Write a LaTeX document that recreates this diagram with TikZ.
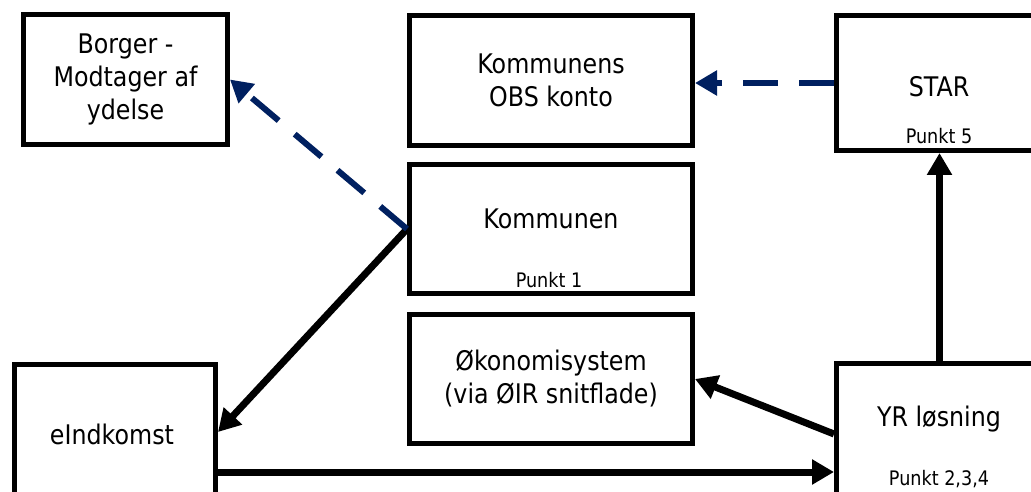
\documentclass[tikz,border=0pt]{standalone}
\usepackage{fontspec}
\setmainfont{DejaVu Sans}[FakeStretch=0.88]
\usetikzlibrary{arrows.meta,calc}
\definecolor{navy}{RGB}{0,32,96}
\begin{document}
\begin{tikzpicture}[x=1pt,y=-1pt,
  box/.style={draw, line width=5pt, rectangle, inner sep=0pt},
  big/.style={font=\fontsize{27}{33}\selectfont, align=center},
  small/.style={font=\fontsize{20}{24}\selectfont},
  arr/.style={line width=7pt, -{Triangle[length=22pt,width=24pt]}},
  darr/.style={line width=6pt, draw=navy, dash pattern=on 35pt off 21pt, -{Triangle[length=22pt,width=24pt]}}]
\useasboundingbox (0,0) rectangle (1031,492);
\clip (0,0) rectangle (1031,492);
\node[box, big, minimum width=204pt, minimum height=130pt] (borger) at (125.5,79.5) {Borger -\\Modtager af\\ydelse};
\node[box, big, minimum width=283pt, minimum height=130pt] (obs) at (551,80.5) {Kommunens\\OBS konto};
\node[box, minimum width=206pt, minimum height=135pt] (star) at (939.5,83) {};
\node[big] (starT) at (939,87) {STAR};
\node[small] (starP) at (939,136) {Punkt 5};
\node[box, minimum width=283pt, minimum height=129pt] (kommunen) at (551,229) {};
\node[big] (kommunenT) at (551,219) {Kommunen};
\node[small] (kommunenP) at (549,280) {Punkt 1};
\node[box, big, minimum width=283pt, minimum height=129pt] (oko) at (551,379) {Økonomisystem\\(via ØIR snitflade)};
\node[box, minimum width=206pt, minimum height=137pt] (yr) at (939.5,432) {};
\node[big] (yrT) at (939,419) {YR løsning};
\node[small] (yrP) at (939,479) {Punkt 2,3,4};
\node[box, minimum width=201pt, minimum height=135pt] (eind) at (115,432) {};
\node[big] (eindT) at (112,434) {eIndkomst};
\coordinate (ly) at (0,472);
\draw[arr] (kommunen.west) -- (eind.east);
\draw[darr] (kommunen.west) -- (borger.east);
\draw[darr] (star.west) -- (star.west -| obs.east);
\draw[arr] (yr.north) -- (star.south);
\draw[arr] ([yshift=-2pt]yr.west) -- (oko.east);
\draw[arr] (eind.east |- ly) -- (yr.west |- ly);
\end{tikzpicture}
\end{document}
